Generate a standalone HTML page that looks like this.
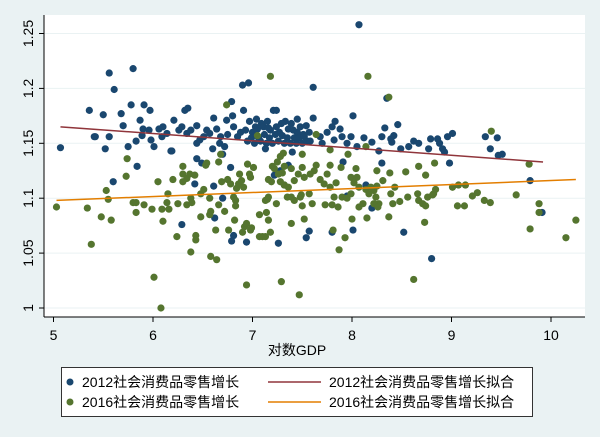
<!DOCTYPE html>
<html><head><meta charset="utf-8"><style>
html,body{margin:0;padding:0;background:#eaf2f3;}
svg{display:block;font-family:"Liberation Sans","Noto Sans CJK SC",sans-serif;}
</style></head><body>
<svg id="chart" width="600" height="437" viewBox="0 0 600 437">
<rect x="0" y="0" width="600" height="437" fill="#eaf2f3"/>
<rect x="44" y="15" width="541" height="302" fill="#ffffff"/>
<g id="grid"></g>
<g id="marks"></g>
<line x1="44" y1="15" x2="44" y2="317" stroke="#000" stroke-width="1"/>
<line x1="44" y1="317" x2="585" y2="317" stroke="#000" stroke-width="1"/>
<g id="axes"></g>
<text x="297" y="355" font-size="14" text-anchor="middle" fill="#000">对数GDP</text>
<g>
<rect x="61.5" y="367.5" width="471" height="49" fill="#fff" stroke="#333" stroke-width="1"/>
<circle cx="70" cy="382" r="3.5" fill="#1a476f"/>
<text x="82" y="387" font-size="14">2012社会消费品零售增长</text>
<circle cx="70" cy="402" r="3.5" fill="#55752f"/>
<text x="82" y="407" font-size="14">2016社会消费品零售增长</text>
<line x1="268" y1="382" x2="321" y2="382" stroke="#90353b" stroke-width="1.5"/>
<text x="329" y="387" font-size="14">2012社会消费品零售增长拟合</text>
<line x1="268" y1="402" x2="321" y2="402" stroke="#e37e00" stroke-width="1.5"/>
<text x="329" y="407" font-size="14">2016社会消费品零售增长拟合</text>
</g>
</svg>
<script>
const xTicks=[5,6,7,8,9,10];
const yTicks=[1,1.05,1.1,1.15,1.2,1.25];
const yTickLabels=["1","1.05","1.1","1.15","1.2","1.25"];
const blueX=[5.07,5.36,5.50,5.41,5.42,5.52,5.56,5.61,5.56,5.60,5.68,5.70,5.75,5.78,5.80,5.83,5.84,5.87,5.91,5.90,5.89,5.97,5.98,6.01,5.96,6.06,6.10,6.09,6.14,6.18,6.19,6.21,6.26,6.32,6.35,6.29,6.34,6.38,6.44,6.44,6.47,6.44,6.49,6.42,6.51,6.54,6.57,6.61,6.60,6.61,6.62,6.29,6.64,6.68,6.72,6.74,6.79,6.80,6.81,6.85,6.88,6.90,6.96,6.91,6.78,6.70,6.81,6.79,6.94,6.70,6.67,6.75,
6.93,6.97,7.00,7.03,7.06,7.09,7.12,7.15,7.18,7.21,7.24,7.27,7.30,7.33,7.36,7.39,7.42,7.45,7.48,7.51,7.54,7.57,6.95,6.99,7.02,7.05,7.08,7.11,7.14,7.17,7.20,7.23,7.26,7.29,7.32,7.35,7.38,7.41,7.44,7.47,7.50,7.55,7.13,7.26,7.24,7.04,7.16,7.40,7.28,7.22,7.32,7.45,7.36,
8.07,7.61,8.35,7.61,8.01,8.46,8.33,7.83,7.80,7.88,7.75,7.68,7.58,7.52,7.99,7.90,7.82,8.30,8.42,8.20,8.40,8.49,8.57,8.62,8.67,8.77,8.79,8.86,8.88,8.91,8.93,8.96,9.01,8.98,9.34,9.46,9.39,9.47,9.51,9.79,9.91,8.80,8.52,8.01,7.80,7.54,7.57,8.20,7.95,8.14,8.30,7.91,8.39,8.05,7.95,7.70,8.27,8.12];
const blueY=[1.146,1.180,1.176,1.156,1.156,1.145,1.214,1.199,1.156,1.115,1.177,1.166,1.147,1.185,1.218,1.152,1.129,1.171,1.185,1.163,1.157,1.180,1.153,1.147,1.162,1.163,1.165,1.156,1.159,1.143,1.143,1.171,1.162,1.180,1.182,1.165,1.159,1.162,1.166,1.150,1.153,1.136,1.132,1.113,1.156,1.162,1.159,1.173,1.145,1.111,1.082,1.076,1.163,1.156,1.147,1.171,1.188,1.175,1.165,1.156,1.160,1.203,1.205,1.180,1.128,1.100,1.066,1.061,1.060,1.140,1.150,1.158,
1.162,1.170,1.160,1.165,1.155,1.168,1.158,1.170,1.162,1.180,1.165,1.160,1.157,1.170,1.163,1.168,1.155,1.160,1.165,1.158,1.166,1.160,1.152,1.155,1.150,1.163,1.152,1.165,1.150,1.155,1.150,1.158,1.152,1.168,1.150,1.155,1.150,1.162,1.150,1.155,1.150,1.152,1.145,1.059,1.180,1.172,1.164,1.142,1.125,1.121,1.112,1.172,1.130,
1.258,1.201,1.191,1.173,1.175,1.167,1.164,1.170,1.165,1.163,1.160,1.156,1.152,1.156,1.156,1.156,1.153,1.156,1.157,1.151,1.151,1.145,1.147,1.152,1.150,1.145,1.154,1.154,1.150,1.145,1.142,1.156,1.159,1.132,1.156,1.155,1.145,1.139,1.140,1.116,1.087,1.045,1.069,1.071,1.069,1.064,1.070,1.091,1.102,1.112,1.132,1.133,1.154,1.147,1.150,1.150,1.143,1.155];
const greenX=[5.03,5.34,5.38,5.48,5.53,5.55,5.58,5.73,5.74,5.80,5.83,5.83,5.91,5.99,6.01,6.08,6.05,6.09,6.10,6.14,6.16,6.15,6.20,6.24,6.25,6.30,6.30,6.34,6.37,6.42,6.30,6.34,6.38,6.39,6.38,6.43,6.43,6.48,6.48,6.51,6.53,6.54,6.57,6.58,6.57,6.58,6.64,6.63,6.66,6.66,6.68,6.69,6.75,6.78,6.72,6.74,6.76,6.81,6.83,6.84,6.86,6.87,6.89,6.91,6.82,6.83,6.90,6.92,6.94,6.98,6.99,6.94,6.95,6.97,7.01,6.98,7.05,7.07,7.07,7.10,7.13,7.13,7.15,7.16,7.14,7.16,7.16,7.19,7.20,7.22,7.25,7.28,7.31,7.32,7.30,7.26,7.28,7.32,7.18,7.18,7.29,7.24,7.39,7.35,7.39,7.42,7.39,7.42,7.46,7.48,7.47,7.36,
8.16,8.37,9.40,8.14,7.64,7.78,7.50,7.96,9.78,7.64,7.62,7.58,7.52,7.50,7.78,7.75,7.68,7.72,7.78,7.84,7.89,7.99,8.04,8.05,8.02,8.07,8.14,8.19,8.22,8.25,8.31,8.25,8.38,8.43,8.54,8.67,8.74,8.83,7.49,7.60,7.57,7.82,7.86,7.90,7.95,7.99,8.07,8.11,8.15,8.17,8.24,8.27,8.22,8.26,8.39,8.41,8.48,8.56,8.66,8.67,8.71,8.74,8.76,8.81,8.82,8.84,9.01,9.07,9.14,9.21,9.26,9.33,9.39,9.65,9.06,9.13,9.88,9.88,7.50,7.52,7.73,7.81,7.80,7.93,7.87,8.00,8.37,8.73,8.62,9.79,10.15,10.25];
const greenY=[1.092,1.091,1.058,1.083,1.107,1.099,1.080,1.120,1.136,1.096,1.096,1.087,1.094,1.090,1.028,1.000,1.115,1.090,1.079,1.096,1.090,1.104,1.117,1.065,1.095,1.129,1.122,1.118,1.122,1.121,1.115,1.094,1.100,1.096,1.051,1.066,1.062,1.083,1.104,1.108,1.130,1.132,1.100,1.088,1.085,1.047,1.044,1.071,1.094,1.133,1.140,1.115,1.117,1.113,1.088,1.185,1.071,1.101,1.098,1.109,1.113,1.122,1.116,1.110,1.080,1.093,1.069,1.074,1.077,1.071,1.073,1.021,1.131,1.122,1.128,1.119,1.157,1.085,1.065,1.065,1.065,1.098,1.099,1.101,1.087,1.080,1.117,1.115,1.129,1.127,1.133,1.138,1.141,1.129,1.123,1.122,1.115,1.112,1.211,1.069,1.024,1.095,1.077,1.101,1.101,1.098,1.127,1.116,1.122,1.101,1.012,1.110,
1.211,1.192,1.161,1.147,1.158,1.144,1.140,1.140,1.131,1.130,1.125,1.122,1.119,1.128,1.130,1.122,1.117,1.113,1.110,1.114,1.128,1.119,1.127,1.119,1.114,1.110,1.108,1.110,1.107,1.111,1.116,1.125,1.123,1.110,1.124,1.129,1.121,1.132,1.103,1.095,1.104,1.101,1.092,1.101,1.100,1.104,1.092,1.095,1.082,1.104,1.101,1.095,1.095,1.092,1.104,1.095,1.097,1.101,1.104,1.098,1.095,1.093,1.101,1.103,1.104,1.108,1.110,1.112,1.112,1.102,1.105,1.098,1.096,1.103,1.093,1.093,1.095,1.087,1.093,1.081,1.094,1.071,1.094,1.064,1.053,1.081,1.083,1.078,1.026,1.072,1.064,1.080];
const fit2012X=[5.07,9.92];
const fit2012Y=[1.165,1.133];
const fit2016X=[5.03,10.25];
const fit2016Y=[1.098,1.117];

const NS="http://www.w3.org/2000/svg";
function sx(v){return 53.5+(v-5)*99.5;}
function sy(v){return 308-(v-1)*1098;}
function mk(tag,attrs,parent){const e=document.createElementNS(NS,tag);for(const k in attrs)e.setAttribute(k,attrs[k]);parent.appendChild(e);return e;}
const grid=document.getElementById('grid'),axes=document.getElementById('axes'),marks=document.getElementById('marks');
yTicks.forEach((t,i)=>{
  const gl=mk('line',{x1:44,x2:585,y1:sy(t),y2:sy(t),stroke:'#eaf2f3','stroke-width':1},grid);
  
  
  const tk=mk('line',{x1:39,x2:44,y1:sy(t),y2:sy(t),stroke:'#000'},axes);
  
  
  const tx=mk('text',{x:0,y:0,'font-size':14,'text-anchor':'middle',transform:'translate(33,'+sy(t)+') rotate(-90)'},axes);
  tx.textContent=yTickLabels[i];
  
  
});
xTicks.forEach(t=>{
  const tk=mk('line',{x1:sx(t),x2:sx(t),y1:317,y2:322,stroke:'#000'},axes);
  
  
  const tx=mk('text',{x:sx(t),y:340,'font-size':14,'text-anchor':'middle'},axes);
  tx.textContent=String(t);
  
  
});
blueX.forEach((x,i)=>{
  const c=mk('circle',{cx:sx(x),cy:sy(blueY[i]),r:3.6,fill:'#1a476f'},marks);
  
  
});
greenX.forEach((x,i)=>{
  const c=mk('circle',{cx:sx(x),cy:sy(greenY[i]),r:3.6,fill:'#55752f'},marks);
  
  
});
const l1=mk('line',{x1:sx(fit2012X[0]),y1:sy(fit2012Y[0]),x2:sx(fit2012X[1]),y2:sy(fit2012Y[1]),stroke:'#90353b','stroke-width':1.5},marks);


const l2=mk('line',{x1:sx(fit2016X[0]),y1:sy(fit2016Y[0]),x2:sx(fit2016X[1]),y2:sy(fit2016Y[1]),stroke:'#e37e00','stroke-width':1.5},marks);


</script>
</body></html>
